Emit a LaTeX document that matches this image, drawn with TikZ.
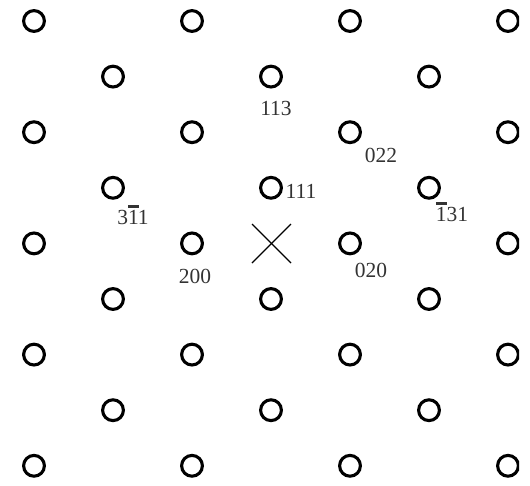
\documentclass[tikz,border=0pt]{standalone}
\usepackage{fontspec}
\setmainfont{Liberation Serif}
\newcommand\ovbar[1]{\makebox[0pt][l]{\raisebox{0.74em}{\rule{0.5em}{2.8pt}}}#1}
\begin{document}
\begin{tikzpicture}[x=1pt,y=-1pt,
  spot/.style={circle,draw,line width=3.1pt,inner sep=0pt,minimum size=20.8pt},
  lbl/.style={font=\fontsize{21.5}{24}\selectfont,text=black!80,inner sep=0pt,anchor=base},
  cross/.style={line width=1.1pt}]
\useasboundingbox (0,0) rectangle (530,485);
\begin{scope}
\clip (0,0) rectangle (519,485);
\foreach \r in {0,...,8}{
  \foreach \c in {0,...,6}{
    \pgfmathtruncatemacro{\parity}{mod(\r+\c,2)}
    \ifnum\parity=0
      \node[spot] (n\r-\c) at ({34+79*\c},{21+55.6*\r}) {};
    \fi
  }
}
\end{scope}
\node[lbl] (l113) at (276,115) {113};
\node[lbl] (l022) at (381,162) {022};
\node[lbl] (l111) at (301,198) {111};
\node[lbl] (l131) at (452,221) {\ovbar{1}31};
\node[lbl] (l311) at (133,224) {3\ovbar{1}1};
\node[lbl] (l200) at (195,283) {200};
\node[lbl] (l020) at (371,277) {020};
\coordinate (xa) at (252,224);
\coordinate (xb) at (291,263);
\coordinate (xc) at (291,224);
\coordinate (xd) at (252,263);
\draw[cross] (xa) -- (xb);
\draw[cross] (xc) -- (xd);
\end{tikzpicture}
\end{document}
